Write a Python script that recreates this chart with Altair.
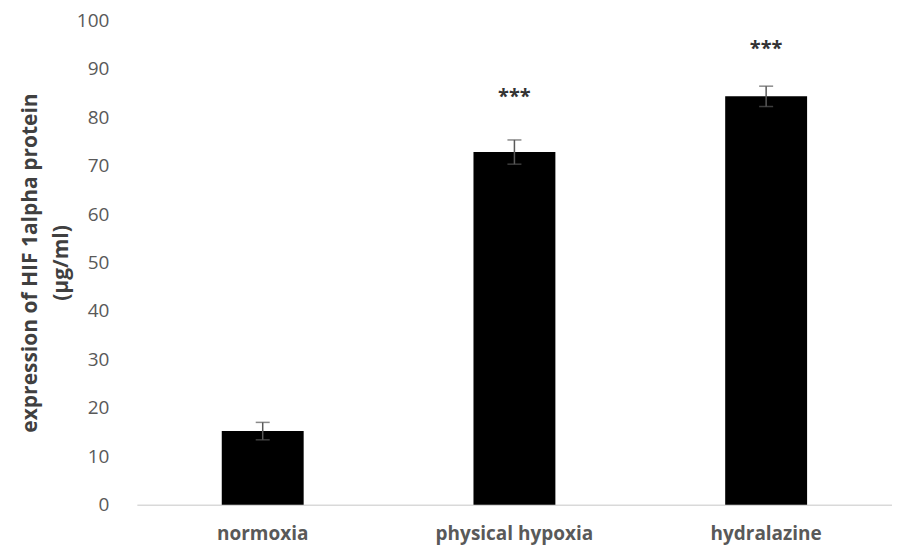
import altair as alt
import pandas as pd

categories = ["normoxia", "physical hypoxia", "hydralazine"]
values = [15.2, 72.8, 84.3]
errors = [1.8, 2.5, 2.1]
stars = ["", "***", "***"]
star_pos = [0, 85, 95]

df = pd.DataFrame({
    "cat": categories,
    "val": values,
    "lo": [v - e for v, e in zip(values, errors)],
    "hi": [v + e for v, e in zip(values, errors)],
    "star": stars,
    "star_y": star_pos,
})

FONT = "Open Sans"
x = alt.X("cat:N", sort=categories, title=None,
          scale=alt.Scale(paddingInner=0, paddingOuter=0),
          axis=alt.Axis(labelAngle=0, labelFont=FONT, labelFontSize=19, labelFontWeight="bold",
                        labelColor="#595959", labelPadding=20, ticks=False,
                        domainColor="#d9d9d9", domainWidth=1.5))
yscale = alt.Scale(domain=[0, 100], nice=False)
y = alt.Y("val:Q", scale=yscale,
          title=["expression of HIF 1alpha protein", "(µg/ml)"],
          axis=alt.Axis(values=list(range(0, 101, 10)), grid=False, domain=False, ticks=False,
                        labelFont=FONT, labelFontSize=19, labelColor="#595959", labelPadding=28,
                        titleFont=FONT, titleFontSize=21, titleFontWeight="bold",
                        titleColor="#404040", titlePadding=5, titleLineHeight=31))

base = alt.Chart(df)
bars = base.mark_bar(color="black", size=82).encode(x=x, y=y)
rule = base.mark_rule(color="#595959", strokeWidth=1.5).encode(
    x=alt.X("cat:N", sort=categories), y=alt.Y("lo:Q", scale=yscale), y2="hi:Q")
cap_lo = base.mark_tick(color="#595959", size=14, thickness=1.5, orient="horizontal").encode(
    x=alt.X("cat:N", sort=categories), y=alt.Y("lo:Q", scale=yscale))
cap_hi = base.mark_tick(color="#595959", size=14, thickness=1.5, orient="horizontal").encode(
    x=alt.X("cat:N", sort=categories), y=alt.Y("hi:Q", scale=yscale))
txt = base.transform_filter(alt.datum.star != "").mark_text(
    font=FONT, fontSize=20, fontWeight="bold", color="#333333", baseline="middle", dy=4).encode(
    x=alt.X("cat:N", sort=categories), y=alt.Y("star_y:Q", scale=yscale), text="star:N")

chart = alt.layer(bars, rule, cap_lo, cap_hi, txt).properties(
    width=756, height=485,
    autosize=alt.AutoSizeParams(type="none"),
    padding={"left": 129, "top": 12, "right": 0, "bottom": 40},
).configure_view(stroke=None)

chart.save("out.html", embed_options={"renderer": "svg", "actions": False})
